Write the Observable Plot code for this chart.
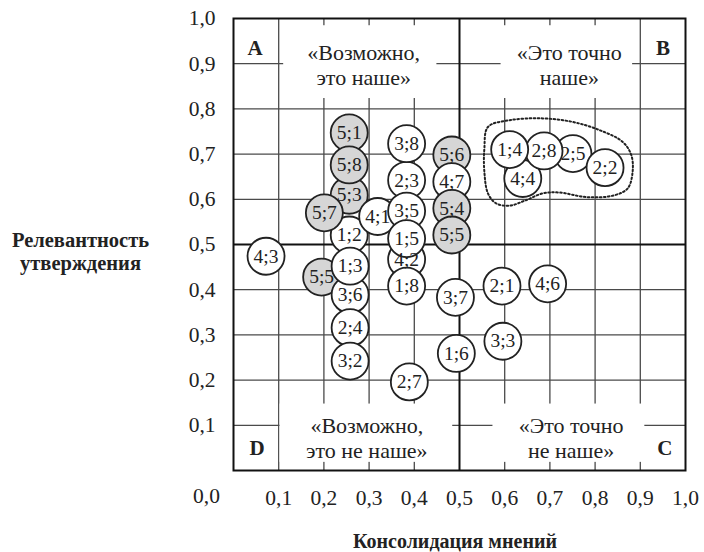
<!DOCTYPE html>
<html>
<head>
<meta charset="utf-8">
<script src="https://cdn.jsdelivr.net/npm/d3@7"></script>
<script src="https://cdn.jsdelivr.net/npm/@observablehq/plot@0.6"></script>
<style>
  html, body { margin: 0; padding: 0; background: #fff; }
</style>
</head>
<body>
<div id="chart"></div>
<script>
// ---- data ----
const pointLabels = ["4;3","5;5","5;1","5;3","5;8","3;6","1;2","1;3","2;4","3;2","5;7","4;1",
  "5;6","4;7","5;4","5;5","2;3","3;8","3;5","4;2","1;5","1;8","2;7","3;7","1;6","2;1","4;6","3;3",
  "2;5","2;2","4;4","2;8","1;4"];
const pointX = [0.072,0.195,0.256,0.256,0.256,0.258,0.256,0.258,0.258,0.258,0.201,0.319,
  0.483,0.483,0.483,0.483,0.383,0.383,0.383,0.383,0.383,0.383,0.389,0.491,0.493,0.594,0.695,0.596,
  0.751,0.822,0.640,0.687,0.611];
const pointY = [0.474,0.428,0.747,0.609,0.676,0.389,0.521,0.452,0.316,0.242,0.570,0.562,
  0.698,0.639,0.580,0.521,0.642,0.723,0.574,0.467,0.513,0.408,0.196,0.383,0.259,0.408,0.413,0.286,
  0.701,0.670,0.646,0.707,0.710];
const pointGroup = ["w","g","g","g","g","w","w","w","w","w","g","w",
  "g","w","g","g","w","w","w","w","w","w","w","w","w","w","w","w",
  "w","w","w","w","w"];

// dotted outline around the cluster in quadrant B
const outlineX = [0.563,0.611,0.684,0.751,0.810,0.861,0.880,0.883,0.872,0.839,0.780,0.721,0.684,0.647,0.611,0.581,0.563,0.555,0.555];
const outlineY = [0.760,0.775,0.779,0.771,0.753,0.727,0.698,0.661,0.624,0.608,0.605,0.615,0.613,0.598,0.586,0.591,0.613,0.661,0.712];

const tickValues = [0.1,0.2,0.3,0.4,0.5,0.6,0.7,0.8,0.9,1.0];
const gridValues = [0.1,0.2,0.3,0.4,0.6,0.7,0.8,0.9];

const quadrantTexts = ["«Возможно,\nэто наше»","«Это точно\nнаше»","«Возможно,\nэто не наше»","«Это точно\nне наше»"];
const quadrantTextX = [0.288,0.743,0.295,0.747];
const quadrantTextY = [0.898,0.898,0.073,0.073];
// white panels behind quadrant texts
const panelX1 = [0.111,0.592,0.103,0.574];
const panelX2 = [0.450,0.883,0.485,0.910];
const panelY1 = [0.823,0.823,0.018,0.018];
const panelY2 = [0.984,0.984,0.147,0.147];

const cornerLetters = ["A","B","D","C"];
const cornerX = [0.048,0.950,0.052,0.954];
const cornerY = [0.934,0.934,0.049,0.049];

const yTitle = "Релевантность\nутверждения";
const xTitle = "Консолидация мнений";
const originLabel = "0,0";

// ---- build tables ----
const points = pointLabels.map((t, i) => ({label: t, x: pointX[i], y: pointY[i], g: pointGroup[i]}));
const outline = outlineX.map((x, i) => ({x, y: outlineY[i]}));
const quads = quadrantTexts.map((t, i) => ({t, x: quadrantTextX[i], y: quadrantTextY[i]}));
const panels = panelX1.map((x1, i) => ({x1, x2: panelX2[i], y1: panelY1[i], y2: panelY2[i]}));
const corners = cornerLetters.map((t, i) => ({t, x: cornerX[i], y: cornerY[i]}));
const fmt = d => d.toFixed(1).replace(".", ",");
const serif = "Liberation Serif";

const chart = Plot.plot({
  width: 704,
  height: 552,
  marginLeft: 233,
  marginRight: 19,
  marginTop: 18,
  marginBottom: 82,
  style: {fontFamily: serif, fontSize: "20px", color: "#222", background: "#fff"},
  x: {domain: [0, 1]},
  y: {domain: [0, 1]},
  marks: [
    Plot.ruleX(gridValues, {stroke: "#4a4a4a", strokeWidth: 1.3}),
    Plot.ruleY(gridValues, {stroke: "#4a4a4a", strokeWidth: 1.3}),
    Plot.rect(panels, {x1: "x1", x2: "x2", y1: "y1", y2: "y2", fill: "white"}),
    Plot.ruleX([0.5], {stroke: "#111", strokeWidth: 2}),
    Plot.ruleY([0.5], {stroke: "#111", strokeWidth: 2}),
    Plot.frame({stroke: "#111", strokeWidth: 2}),
    Plot.text(quads, {x: "x", y: "y", text: "t", fontSize: 22, lineHeight: 1.15, fill: "#222", fontFamily: serif}),
    Plot.text(corners, {x: "x", y: "y", text: "t", fontSize: 21, fontWeight: "bold", fill: "#222", fontFamily: serif}),
    Plot.line(outline, {x: "x", y: "y", curve: "catmull-rom-closed", stroke: "#222", strokeWidth: 2, strokeDasharray: "1.6,2.4"}),
    Plot.dot(points, {x: "x", y: "y", r: 18.5, fill: d => d.g === "g" ? "#d6d6d6" : "#ffffff", stroke: "#222", strokeWidth: 1.8}),
    Plot.text(points, {x: "x", y: "y", text: "label", fontSize: 19.5, fill: "#222", fontFamily: serif}),
    Plot.axisX(tickValues, {tickSize: 0, tickPadding: 19, tickFormat: fmt, fontSize: 21.5, fill: "#222", label: null, fontFamily: serif}),
    Plot.axisY(tickValues, {tickSize: 0, tickPadding: 18, tickFormat: fmt, fontSize: 21.5, fill: "#222", label: null, fontFamily: serif}),
    Plot.text([originLabel], {x: 0, y: 0, text: d => d, dx: -27, dy: 26, fontSize: 21.5, fill: "#222", fontFamily: serif}),
    Plot.text([yTitle], {x: 0, y: 0.485, text: d => d, dx: -153, fontSize: 20.5, fontWeight: "bold", lineHeight: 1.1, fill: "#222", fontFamily: serif}),
    Plot.text([xTitle], {x: 0.49, y: 0, text: d => d, dy: 71, fontSize: 20, fontWeight: "bold", fill: "#222", fontFamily: serif})
  ]
});
document.getElementById("chart").appendChild(chart);
</script>
</body>
</html>
